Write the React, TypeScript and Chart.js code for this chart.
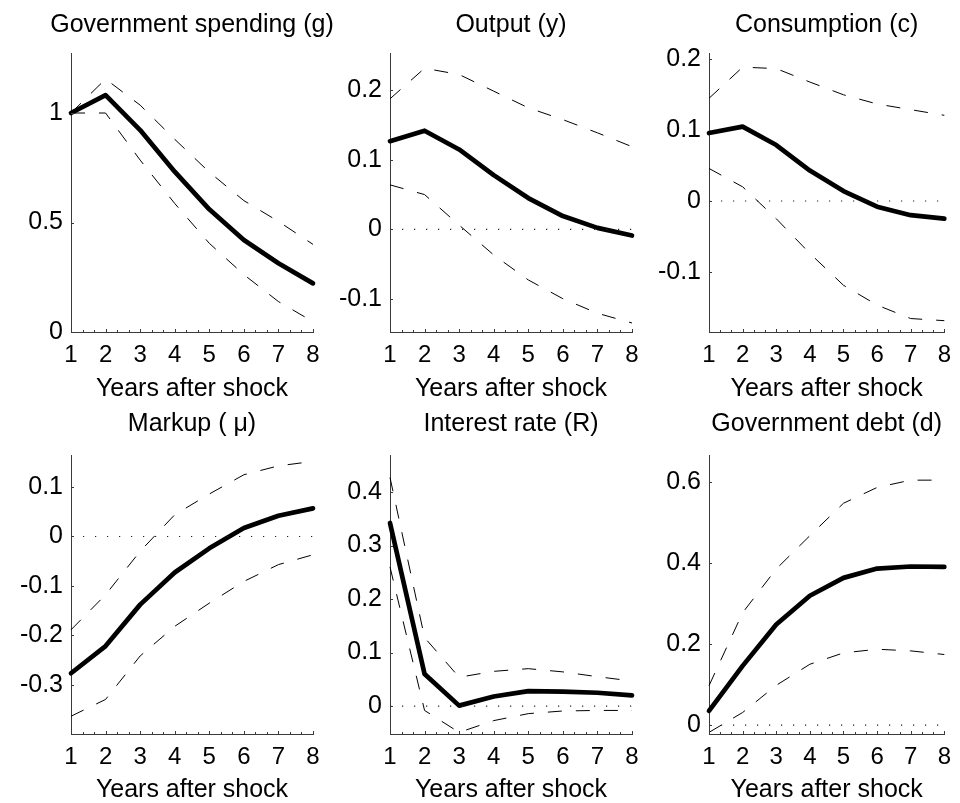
import React, { useEffect, useRef } from "react";
import { Chart, registerables } from "chart.js";

Chart.register(...registerables);

// ---------- data ----------
const years = [1, 2, 3, 4, 5, 6, 7, 8];
const xTickValues = [1, 2, 3, 4, 5, 6, 7, 8];
const xLabel = "Years after shock";

const titles = [
  "Government spending (g)",
  "Output (y)",
  "Consumption (c)",
  "Markup ( μ)",
  "Interest rate (R)",
  "Government debt (d)",
];

const gMean = [1.0, 1.082, 0.922, 0.732, 0.56, 0.42, 0.314, 0.222];
const gUpper = [1.0, 1.155, 1.036, 0.88, 0.73, 0.6, 0.505, 0.4];
const gLower = [1.0, 1.0, 0.785, 0.587, 0.405, 0.262, 0.139, 0.047];

const yMean = [0.127, 0.142, 0.115, 0.078, 0.045, 0.019, 0.002, -0.009];
const yUpper = [0.188, 0.232, 0.223, 0.199, 0.175, 0.158, 0.139, 0.119];
const yLower = [0.064, 0.05, 0.006, -0.037, -0.073, -0.1, -0.121, -0.135];

const cMean = [0.096, 0.105, 0.079, 0.043, 0.014, -0.008, -0.02, -0.025];
const cUpper = [0.145, 0.189, 0.187, 0.168, 0.15, 0.137, 0.129, 0.121];
const cLower = [0.046, 0.02, -0.025, -0.074, -0.119, -0.147, -0.166, -0.169];

const muMean = [-0.277, -0.222, -0.138, -0.073, -0.024, 0.017, 0.042, 0.057];
const muUpper = [-0.189, -0.118, -0.03, 0.044, 0.086, 0.125, 0.143, 0.152];
const muLower = [-0.364, -0.33, -0.242, -0.182, -0.135, -0.091, -0.057, -0.037];

const rMean = [0.342, 0.06, 0.001, 0.018, 0.028, 0.027, 0.025, 0.02];
const rUpper = [0.427, 0.128, 0.054, 0.065, 0.07, 0.064, 0.055, 0.047];
const rLower = [0.26, -0.008, -0.049, -0.027, -0.014, -0.009, -0.008, -0.008];

const dMean = [0.035, 0.146, 0.248, 0.319, 0.363, 0.386, 0.391, 0.39];
const dUpper = [0.097, 0.277, 0.385, 0.467, 0.547, 0.586, 0.604, 0.604];
const dLower = [-0.018, 0.031, 0.098, 0.15, 0.178, 0.187, 0.183, 0.174];

const gTicks = [0, 0.5, 1];
const yTicks = [-0.1, 0, 0.1, 0.2];
const cTicks = [-0.1, 0, 0.1, 0.2];
const muTicks = [-0.3, -0.2, -0.1, 0, 0.1];
const rTicks = [0, 0.1, 0.2, 0.3, 0.4];
const dTicks = [0, 0.2, 0.4, 0.6];

const gRange = [0, 1.274];
const yRange = [-0.148, 0.254];
const cRange = [-0.185, 0.209];
const muRange = [-0.4, 0.165];
const rRange = [-0.052, 0.469];
const dRange = [-0.022, 0.666];

const panelSeries = [
  { mean: gMean, upper: gUpper, lower: gLower, ticks: gTicks, range: gRange, zero: false },
  { mean: yMean, upper: yUpper, lower: yLower, ticks: yTicks, range: yRange, zero: true },
  { mean: cMean, upper: cUpper, lower: cLower, ticks: cTicks, range: cRange, zero: true },
  { mean: muMean, upper: muUpper, lower: muLower, ticks: muTicks, range: muRange, zero: true },
  { mean: rMean, upper: rUpper, lower: rLower, ticks: rTicks, range: rRange, zero: true },
  { mean: dMean, upper: dUpper, lower: dLower, ticks: dTicks, range: dRange, zero: true },
];

// ---------- layout (pixels) ----------
const colGeom = [
  { left: 0, width: 384, yw: 71, plotW: 242 },
  { left: 319, width: 384, yw: 71, plotW: 242 },
  { left: 638, width: 322, yw: 71, plotW: 242 },
];
const rowGeom = [
  { top: 0, height: 410, padTop: 53, xh: 78, titlePadBottom: 8, titleBase: 32 },
  { top: 400, height: 403, padTop: 55, xh: 69, titlePadBottom: 0, titleBase: 31 },
];

const FONT = "'Liberation Sans', Arial, Helvetica, sans-serif";
const AXIS_COLOR = "#3a3a3a";

const titlePlugin = {
  id: "panelTitle",
  afterDraw(chart: any, _args: any, opts: any) {
    const { ctx, chartArea } = chart;
    ctx.save();
    ctx.font = `25px ${FONT}`;
    ctx.fillStyle = "#000";
    ctx.textAlign = "center";
    ctx.textBaseline = "alphabetic";
    ctx.fillText(opts.text, (chartArea.left + chartArea.right) / 2, opts.y);
    ctx.restore();
  },
};

const inwardTicksPlugin = {
  id: "inwardTicks",
  afterDraw(chart: any) {
    const { ctx, chartArea } = chart;
    const xs = chart.scales.x;
    const ys = chart.scales.y;
    ctx.save();
    ctx.strokeStyle = AXIS_COLOR;
    ctx.lineWidth = 1;
    ctx.beginPath();
    for (let i = 0; i <= 21; i++) {
      const v = 1 + i / 3;
      const px = Math.round(xs.getPixelForValue(v)) + 0.5;
      const len = i % 3 === 0 ? 3 : 2;
      ctx.moveTo(px, chartArea.bottom);
      ctx.lineTo(px, chartArea.bottom - len);
    }
    ys.ticks.forEach((t: any) => {
      const py = Math.round(ys.getPixelForValue(t.value)) + 0.5;
      ctx.moveTo(chartArea.left, py);
      ctx.lineTo(chartArea.left + 3, py);
    });
    ctx.stroke();
    ctx.restore();
  },
};

function Panel({ index }: { index: number }) {
  const ref = useRef<HTMLCanvasElement | null>(null);
  const col = colGeom[index % 3];
  const row = rowGeom[Math.floor(index / 3)];
  const s = panelSeries[index];

  useEffect(() => {
    if (!ref.current) return;
    const toPts = (arr: number[]) => years.map((x, i) => ({ x, y: arr[i] }));
    const datasets: any[] = [];
    if (s.zero) {
      datasets.push({
        data: years.map((x) => ({ x, y: 0 })),
        borderColor: "#222",
        borderWidth: 1.2,
        borderDash: [1.2, 10.8],
        pointRadius: 0,
        clip: false,
      });
    }
    datasets.push({
      data: toPts(s.upper),
      borderColor: "#000",
      borderWidth: 1,
      borderDash: [14, 14],
      pointRadius: 0,
      clip: false,
    });
    datasets.push({
      data: toPts(s.lower),
      borderColor: "#000",
      borderWidth: 1,
      borderDash: [14, 14],
      pointRadius: 0,
      clip: false,
    });
    datasets.push({
      data: toPts(s.mean),
      borderColor: "#000",
      borderWidth: 4.7,
      borderJoinStyle: "round",
      borderCapStyle: "round",
      pointRadius: 0,
      clip: false,
    });

    const chart = new Chart(ref.current, {
      type: "line",
      data: { datasets },
      plugins: [titlePlugin, inwardTicksPlugin],
      options: {
        responsive: false,
        animation: false,
        devicePixelRatio: 1,
        layout: {
          padding: {
            top: row.padTop,
            left: 0,
            bottom: 0,
            right: col.width - col.yw - col.plotW,
          },
        },
        plugins: {
          legend: { display: false },
          tooltip: { enabled: false },
          panelTitle: { text: titles[index], y: row.titleBase },
        } as any,
        scales: {
          x: {
            type: "linear",
            min: 1,
            max: 8,
            afterBuildTicks: (scale: any) => {
              scale.ticks = xTickValues.map((v) => ({ value: v }));
            },
            afterFit: (scale: any) => {
              scale.height = row.xh;
            },
            grid: { display: false, drawTicks: false },
            border: { display: true, color: AXIS_COLOR, width: 1 },
            ticks: {
              autoSkip: false,
              maxRotation: 0,
              padding: 9,
              color: "#000",
              font: { family: FONT, size: 24 },
              callback: (v: any) => String(v),
            },
            title: {
              display: true,
              text: xLabel,
              color: "#000",
              font: { family: FONT, size: 25, lineHeight: 1 },
              padding: { top: 0, bottom: row.titlePadBottom },
            },
          },
          y: {
            type: "linear",
            min: s.range[0],
            max: s.range[1],
            afterBuildTicks: (scale: any) => {
              scale.ticks = s.ticks.map((v) => ({ value: v }));
            },
            afterFit: (scale: any) => {
              scale.width = col.yw;
            },
            grid: { display: false, drawTicks: false },
            border: { display: true, color: AXIS_COLOR, width: 1 },
            ticks: {
              padding: 8,
              color: "#000",
              font: { family: FONT, size: 25 },
              callback: (v: any) => String(v),
            },
          },
        },
      },
    } as any);
    return () => chart.destroy();
  }, [index]);

  return (
    <canvas
      ref={ref}
      width={col.width}
      height={row.height}
      style={{
        position: "absolute",
        left: col.left,
        top: row.top,
        width: col.width,
        height: row.height,
      }}
    />
  );
}

export default function App() {
  return (
    <div
      style={{
        position: "absolute",
        left: 0,
        top: 0,
        width: 960,
        height: 803,
        overflow: "hidden",
        background: "#fff",
      }}
    >
      {[0, 1, 2, 3, 4, 5].map((i) => (
        <Panel key={i} index={i} />
      ))}
    </div>
  );
}
